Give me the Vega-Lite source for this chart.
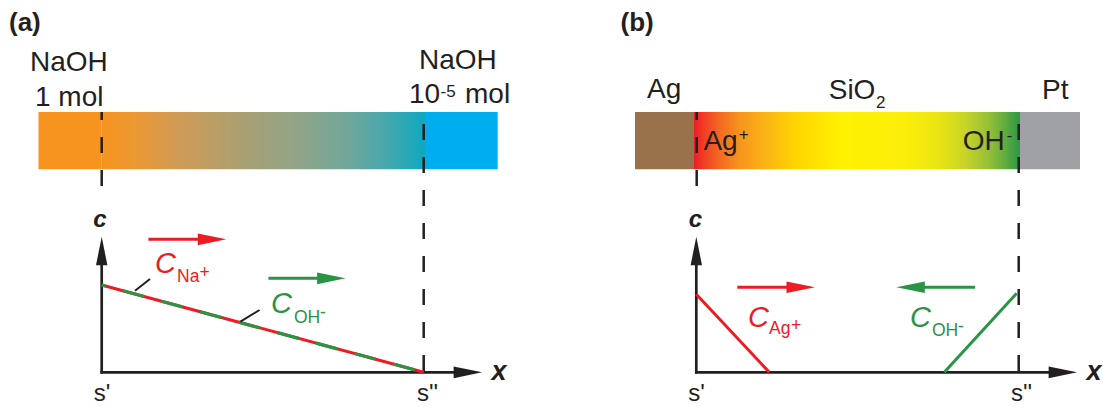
{
  "$schema": "https://vega.github.io/schema/vega-lite/v6.json",
  "background": "white",
  "padding": 0,
  "spacing": 0,
  "bounds": "flush",
  "config": {"view": {"stroke": null}, "text": {"font": "Liberation Sans", "baseline": "alphabetic"}},
  "resolve": {"scale": {"x": "independent", "y": "independent", "color": "independent", "shape": "independent"}},
  "datasets": {
    "bars": [
      {"panel": "a", "material": "NaOH 1 mol", "x": -0.19627, "x_end": 0, "c": 2.32532, "c_end": 2.98167},
      {"panel": "a", "material": "NaOH gradient", "x": 0, "x_end": 1.00404, "c": 2.32532, "c_end": 2.98167},
      {"panel": "a", "material": "NaOH 1e-5 mol", "x": 1.00404, "x_end": 1.22981, "c": 2.32532, "c_end": 2.98167},
      {"panel": "b", "material": "Ag", "x": -0.19037, "x_end": -0.00714, "c": 2.32532, "c_end": 2.98167},
      {"panel": "b", "material": "SiO2", "x": -0.00714, "x_end": 1.00528, "c": 2.32532, "c_end": 2.98167},
      {"panel": "b", "material": "Pt", "x": 1.00528, "x_end": 1.19161, "c": 2.32532, "c_end": 2.98167}
    ],
    "boundaries": [
      {"panel": "a", "boundary": "s'", "x": 0, "c": 2.13402, "x_end": 0, "c_end": 2.98167},
      {"panel": "a", "boundary": "s''", "x": 1, "c": 2.84422, "x_end": 1, "c_end": 0},
      {"panel": "b", "boundary": "s'", "x": 0.00124, "c": 2.13402, "x_end": 0.00124, "c_end": 2.98167},
      {"panel": "b", "boundary": "s''", "x": 1.00124, "c": 2.84422, "x_end": 1.00124, "c_end": 0}
    ],
    "arrows": [
      {"panel": "a", "quantity": "c axis", "direction": "up", "x": 0, "c": 0, "x_end": 0, "c_end": 1.38946},
      {"panel": "a", "quantity": "x axis", "direction": "right", "x": 0, "c": 0, "x_end": 1.13711, "c_end": 0},
      {"panel": "a", "quantity": "Na+", "direction": "right", "x": 0.14503, "c": 1.52348, "x_end": 0.3427, "c_end": 1.52348},
      {"panel": "a", "quantity": "OH-", "direction": "right", "x": 0.5177, "c": 1.07675, "x_end": 0.7132, "c_end": 1.07675},
      {"panel": "b", "quantity": "c axis", "direction": "up", "x": 0, "c": 0, "x_end": 0, "c_end": 1.38946},
      {"panel": "b", "quantity": "x axis", "direction": "right", "x": 0, "c": 0, "x_end": 1.13835, "c_end": 0},
      {"panel": "b", "quantity": "Ag+", "direction": "right", "x": 0.12733, "c": 0.974, "x_end": 0.32438, "c_end": 0.974},
      {"panel": "b", "quantity": "OH-", "direction": "left", "x": 0.86553, "c": 0.974, "x_end": 0.66537, "c_end": 0.974}
    ],
    "profiles": [
      {"panel": "a", "ion": "Na+", "x": 0, "c": 1},
      {"panel": "a", "ion": "Na+", "x": 1, "c": 0},
      {"panel": "a", "ion": "OH-", "x": 0, "c": 1},
      {"panel": "a", "ion": "OH-", "x": 1, "c": 0},
      {"panel": "b", "ion": "Ag+", "x": 0, "c": 0.89347},
      {"panel": "b", "ion": "Ag+", "x": 0.22671, "c": 0},
      {"panel": "b", "ion": "OH-", "x": 0.77019, "c": 0},
      {"panel": "b", "ion": "OH-", "x": 0.99503, "c": 0.90493}
    ],
    "leaders": [
      {"panel": "a", "ion": "Na+", "x": 0.10342, "c": 0.93471, "x_end": 0.15, "c_end": 1.06873},
      {"panel": "a", "ion": "OH-", "x": 0.43075, "c": 0.57961, "x_end": 0.49037, "c_end": 0.71363}
    ],
    "labels": [
      {"panel": "a", "role": "tag", "text": "(a)", "x": -0.28789, "c": 3.90951},
      {"panel": "a", "role": "label", "text": "NaOH", "x": -0.22267, "c": 3.45132},
      {"panel": "a", "role": "label", "text": "1 mol", "x": -0.20714, "c": 3.0504},
      {"panel": "a", "role": "label", "text": "NaOH", "x": 0.9854, "c": 3.47423},
      {"panel": "a", "role": "label", "text": "10", "x": 0.95435, "c": 3.07904},
      {"panel": "a", "role": "label_small", "text": "-5", "x": 1.05217, "c": 3.1581},
      {"panel": "a", "role": "label", "text": "mol", "x": 1.12826, "c": 3.07904},
      {"panel": "a", "role": "axis", "text": "c", "x": -0.00528, "c": 1.66438},
      {"panel": "a", "role": "axis", "text": "x", "x": 1.23385, "c": -0.0882},
      {"panel": "a", "role": "position", "text": "s'", "x": 0.00093, "c": -0.32875},
      {"panel": "a", "role": "position", "text": "s''", "x": 1.0118, "c": -0.32875},
      {"panel": "a", "role": "symbol", "ion": "Na+", "text": "C", "x": 0.16553, "c": 1.13173},
      {"panel": "a", "role": "ion_small", "ion": "Na+", "text": "Na", "x": 0.23385, "c": 1.03436},
      {"panel": "a", "role": "ion_small", "ion": "Na+", "text": "+", "x": 0.30373, "c": 1.08018},
      {"panel": "a", "role": "symbol", "ion": "OH-", "text": "C", "x": 0.52578, "c": 0.67354},
      {"panel": "a", "role": "ion_small", "ion": "OH-", "text": "OH", "x": 0.5972, "c": 0.56472},
      {"panel": "a", "role": "ion_small", "ion": "OH-", "text": "-", "x": 0.67795, "c": 0.62199},
      {"panel": "b", "role": "tag", "text": "(b)", "x": -0.2354, "c": 3.90951},
      {"panel": "b", "role": "label", "text": "Ag", "x": -0.15311, "c": 3.13631},
      {"panel": "b", "role": "label", "text": "SiO", "x": 0.41118, "c": 3.13059},
      {"panel": "b", "role": "label_small", "text": "2", "x": 0.55807, "c": 3.02749},
      {"panel": "b", "role": "label", "text": "Pt", "x": 1.0736, "c": 3.12486},
      {"panel": "b", "role": "label", "text": "Ag", "x": 0.02205, "c": 2.54639},
      {"panel": "b", "role": "label_small", "text": "+", "x": 0.13168, "c": 2.66094},
      {"panel": "b", "role": "label", "text": "OH", "x": 0.82733, "c": 2.54639},
      {"panel": "b", "role": "label_small", "text": "-", "x": 0.96429, "c": 2.64948},
      {"panel": "b", "role": "axis", "text": "c", "x": -0.00248, "c": 1.66438},
      {"panel": "b", "role": "axis", "text": "x", "x": 1.23509, "c": -0.0882},
      {"panel": "b", "role": "position", "text": "s'", "x": 0.00062, "c": -0.32875},
      {"panel": "b", "role": "position", "text": "s''", "x": 1.00994, "c": -0.32875},
      {"panel": "b", "role": "symbol", "ion": "Ag+", "text": "C", "x": 0.16056, "c": 0.5189},
      {"panel": "b", "role": "ion_small", "ion": "Ag+", "text": "Ag", "x": 0.22578, "c": 0.43872},
      {"panel": "b", "role": "ion_small", "ion": "Ag+", "text": "+", "x": 0.2941, "c": 0.47308},
      {"panel": "b", "role": "symbol", "ion": "OH-", "text": "C", "x": 0.66366, "c": 0.5189},
      {"panel": "b", "role": "ion_small", "ion": "OH-", "text": "OH", "x": 0.73199, "c": 0.41581},
      {"panel": "b", "role": "ion_small", "ion": "OH-", "text": "-", "x": 0.81273, "c": 0.462}
    ]
  },
  "hconcat": [
    {
      "width": 551,
      "height": 407,
      "encoding": {
        "x": {"field": "x", "type": "quantitative", "scale": {"domain": [-0.31584, 1.39534], "nice": false, "zero": false}, "axis": null},
        "y": {"field": "c", "type": "quantitative", "scale": {"domain": [-0.39748, 4.2646], "nice": false, "zero": false}, "axis": null}
      },
      "resolve": {"scale": {"color": "independent"}},
      "layer": [
        {
          "data": {"name": "bars"},
          "transform": [{"filter": "datum.panel == 'a' && datum.material != 'NaOH gradient'"}],
          "mark": {"type": "rect"},
          "encoding": {
            "x2": {"field": "x_end"}, "y2": {"field": "c_end"},
            "color": {"field": "material", "type": "nominal", "scale": {"domain": ["NaOH 1 mol", "NaOH 1e-5 mol"], "range": ["#f6941f", "#00aeef"]}, "legend": null}
          }
        },
        {
          "data": {"name": "bars"},
          "transform": [{"filter": "datum.panel == 'a' && datum.material == 'NaOH gradient'"}],
          "mark": {"type": "rect", "fill": {"gradient": "linear", "x1": 0, "y1": 0, "x2": 1, "y2": 0, "stops": [
            {"offset": 0, "color": "#f6941f"}, {"offset": 0.1, "color": "#ec9833"}, {"offset": 0.23, "color": "#d19b55"},
            {"offset": 0.44, "color": "#a8a073"}, {"offset": 0.6, "color": "#92a487"}, {"offset": 0.77, "color": "#6ea79b"},
            {"offset": 0.88, "color": "#45a8ad"}, {"offset": 1, "color": "#0ea8c1"}]}},
          "encoding": {"x2": {"field": "x_end"}, "y2": {"field": "c_end"}}
        },
        {
          "data": {"name": "boundaries"},
          "transform": [{"filter": "datum.panel == 'a'"}],
          "mark": {"type": "rule", "strokeDash": [16, 17], "strokeWidth": 2.5, "color": "#231f20"},
          "encoding": {"x2": {"field": "x_end"}, "y2": {"field": "c_end"}}
        },
        {
          "data": {"name": "arrows"},
          "transform": [{"filter": "datum.panel == 'a' && (datum.quantity == 'c axis' || datum.quantity == 'x axis')"}],
          "mark": {"type": "rule", "strokeWidth": 2.7, "strokeCap": "square", "color": "#231f20"},
          "encoding": {"x2": {"field": "x_end"}, "y2": {"field": "c_end"}}
        },
        {
          "data": {"name": "profiles"},
          "transform": [{"filter": "datum.panel == 'a' && datum.ion == 'Na+'"}],
          "mark": {"type": "line", "strokeWidth": 3, "color": "#ed1c24"},
          "encoding": {}
        },
        {
          "data": {"name": "profiles"},
          "transform": [{"filter": "datum.panel == 'a' && datum.ion == 'OH-'"}],
          "mark": {"type": "line", "strokeWidth": 3.2, "color": "#2a9445", "strokeDash": [22, 18], "strokeDashOffset": 18},
          "encoding": {}
        },
        {
          "data": {"name": "leaders"},
          "transform": [{"filter": "datum.panel == 'a'"}],
          "mark": {"type": "rule", "strokeWidth": 2, "color": "#231f20"},
          "encoding": {"x2": {"field": "x_end"}, "y2": {"field": "c_end"}}
        },
        {
          "data": {"name": "arrows"},
          "transform": [{"filter": "datum.panel == 'a' && datum.quantity != 'c axis' && datum.quantity != 'x axis'"}],
          "mark": {"type": "rule", "strokeWidth": 3},
          "encoding": {
            "x2": {"field": "x_end"}, "y2": {"field": "c_end"},
            "color": {"field": "quantity", "type": "nominal", "scale": {"domain": ["Na+", "OH-", "Ag+"], "range": ["#ed1c24", "#2a9445", "#ed1c24"]}, "legend": null}
          }
        },
        {
          "data": {"name": "arrows"},
          "transform": [{"filter": "datum.panel == 'a'"}],
          "mark": {"type": "point", "filled": true, "opacity": 1, "size": 812, "strokeWidth": 0},
          "encoding": {
            "x": {"field": "x_end", "type": "quantitative"},
            "y": {"field": "c_end", "type": "quantitative"},
            "shape": {"field": "direction", "type": "nominal", "scale": {"domain": ["up", "right", "left"], "range": ["M0,-1L-0.4,1L0.4,1Z", "M1,0L-1,-0.41L-1,0.41Z", "M-1,0L1,-0.41L1,0.41Z"]}, "legend": null},
            "color": {"field": "quantity", "type": "nominal", "scale": {"domain": ["c axis", "x axis", "Na+", "OH-", "Ag+"], "range": ["#231f20", "#231f20", "#ed1c24", "#2a9445", "#ed1c24"]}, "legend": null}
          }
        },
        {
          "data": {"name": "labels"},
          "transform": [{"filter": "datum.panel == 'a' && datum.role == 'tag'"}],
          "mark": {"type": "text", "align": "left", "fontSize": 26, "fontWeight": "bold", "color": "#231f20"},
          "encoding": {"text": {"field": "text"}}
        },
        {
          "data": {"name": "labels"},
          "transform": [{"filter": "datum.panel == 'a' && datum.role == 'label'"}],
          "mark": {"type": "text", "align": "left", "fontSize": 28, "color": "#231f20"},
          "encoding": {"text": {"field": "text"}}
        },
        {
          "data": {"name": "labels"},
          "transform": [{"filter": "datum.panel == 'a' && datum.role == 'label_small'"}],
          "mark": {"type": "text", "align": "left", "fontSize": 17, "color": "#231f20"},
          "encoding": {"text": {"field": "text"}}
        },
        {
          "data": {"name": "labels"},
          "transform": [{"filter": "datum.panel == 'a' && datum.role == 'axis' && datum.text == 'c'"}],
          "mark": {"type": "text", "align": "center", "fontSize": 24, "fontWeight": "bold", "fontStyle": "italic", "color": "#231f20"},
          "encoding": {"text": {"field": "text"}}
        },
        {
          "data": {"name": "labels"},
          "transform": [{"filter": "datum.panel == 'a' && datum.role == 'axis' && datum.text == 'x'"}],
          "mark": {"type": "text", "align": "center", "fontSize": 27, "fontWeight": "bold", "fontStyle": "italic", "color": "#231f20"},
          "encoding": {"text": {"field": "text"}}
        },
        {
          "data": {"name": "labels"},
          "transform": [{"filter": "datum.panel == 'a' && datum.role == 'position'"}],
          "mark": {"type": "text", "align": "center", "fontSize": 24, "color": "#231f20"},
          "encoding": {"text": {"field": "text"}}
        },
        {
          "data": {"name": "labels"},
          "transform": [{"filter": "datum.panel == 'a' && datum.role == 'symbol'"}],
          "mark": {"type": "text", "align": "left", "fontSize": 29, "fontStyle": "italic"},
          "encoding": {
            "text": {"field": "text"},
            "color": {"field": "ion", "type": "nominal", "scale": {"domain": ["Na+", "OH-", "Ag+"], "range": ["#ed1c24", "#2a9445", "#ed1c24"]}, "legend": null}
          }
        },
        {
          "data": {"name": "labels"},
          "transform": [{"filter": "datum.panel == 'a' && datum.role == 'ion_small'"}],
          "mark": {"type": "text", "align": "left", "fontSize": 17.5},
          "encoding": {
            "text": {"field": "text"},
            "color": {"field": "ion", "type": "nominal", "scale": {"domain": ["Na+", "OH-", "Ag+"], "range": ["#ed1c24", "#2a9445", "#ed1c24"]}, "legend": null}
          }
        }
      ]
    },
    {
      "width": 552,
      "height": 407,
      "encoding": {
        "x": {"field": "x", "type": "quantitative", "scale": {"domain": [-0.45124, 1.26304], "nice": false, "zero": false}, "axis": null},
        "y": {"field": "c", "type": "quantitative", "scale": {"domain": [-0.39748, 4.2646], "nice": false, "zero": false}, "axis": null}
      },
      "resolve": {"scale": {"color": "independent"}},
      "layer": [
        {
          "data": {"name": "bars"},
          "transform": [{"filter": "datum.panel == 'b' && datum.material != 'SiO2'"}],
          "mark": {"type": "rect"},
          "encoding": {
            "x2": {"field": "x_end"}, "y2": {"field": "c_end"},
            "color": {"field": "material", "type": "nominal", "scale": {"domain": ["Ag", "Pt"], "range": ["#98724a", "#a0a1a4"]}, "legend": null}
          }
        },
        {
          "data": {"name": "bars"},
          "transform": [{"filter": "datum.panel == 'b' && datum.material == 'SiO2'"}],
          "mark": {"type": "rect", "fill": {"gradient": "linear", "x1": 0, "y1": 0, "x2": 1, "y2": 0, "stops": [
            {"offset": 0, "color": "#ed1c24"}, {"offset": 0.034, "color": "#f04223"}, {"offset": 0.08, "color": "#f36b21"},
            {"offset": 0.14, "color": "#f7941d"}, {"offset": 0.22, "color": "#fbb415"}, {"offset": 0.31, "color": "#ffd400"},
            {"offset": 0.45, "color": "#fff100"}, {"offset": 0.65, "color": "#fcee0a"}, {"offset": 0.75, "color": "#e9e413"},
            {"offset": 0.83, "color": "#c8d526"}, {"offset": 0.91, "color": "#90be38"}, {"offset": 0.96, "color": "#5aa940"},
            {"offset": 1, "color": "#2a9947"}]}},
          "encoding": {"x2": {"field": "x_end"}, "y2": {"field": "c_end"}}
        },
        {
          "data": {"name": "boundaries"},
          "transform": [{"filter": "datum.panel == 'b'"}],
          "mark": {"type": "rule", "strokeDash": [16, 17], "strokeWidth": 2.5, "color": "#231f20"},
          "encoding": {"x2": {"field": "x_end"}, "y2": {"field": "c_end"}}
        },
        {
          "data": {"name": "arrows"},
          "transform": [{"filter": "datum.panel == 'b' && (datum.quantity == 'c axis' || datum.quantity == 'x axis')"}],
          "mark": {"type": "rule", "strokeWidth": 2.7, "strokeCap": "square", "color": "#231f20"},
          "encoding": {"x2": {"field": "x_end"}, "y2": {"field": "c_end"}}
        },
        {
          "data": {"name": "profiles"},
          "transform": [{"filter": "datum.panel == 'b'"}],
          "mark": {"type": "line", "strokeWidth": 3},
          "encoding": {
            "detail": {"field": "ion"},
            "color": {"field": "ion", "type": "nominal", "scale": {"domain": ["Na+", "OH-", "Ag+"], "range": ["#ed1c24", "#2a9445", "#ed1c24"]}, "legend": null}
          }
        },
        {
          "data": {"name": "arrows"},
          "transform": [{"filter": "datum.panel == 'b' && datum.quantity != 'c axis' && datum.quantity != 'x axis'"}],
          "mark": {"type": "rule", "strokeWidth": 3},
          "encoding": {
            "x2": {"field": "x_end"}, "y2": {"field": "c_end"},
            "color": {"field": "quantity", "type": "nominal", "scale": {"domain": ["Na+", "OH-", "Ag+"], "range": ["#ed1c24", "#2a9445", "#ed1c24"]}, "legend": null}
          }
        },
        {
          "data": {"name": "arrows"},
          "transform": [{"filter": "datum.panel == 'b'"}],
          "mark": {"type": "point", "filled": true, "opacity": 1, "size": 812, "strokeWidth": 0},
          "encoding": {
            "x": {"field": "x_end", "type": "quantitative"},
            "y": {"field": "c_end", "type": "quantitative"},
            "shape": {"field": "direction", "type": "nominal", "scale": {"domain": ["up", "right", "left"], "range": ["M0,-1L-0.4,1L0.4,1Z", "M1,0L-1,-0.41L-1,0.41Z", "M-1,0L1,-0.41L1,0.41Z"]}, "legend": null},
            "color": {"field": "quantity", "type": "nominal", "scale": {"domain": ["c axis", "x axis", "Na+", "OH-", "Ag+"], "range": ["#231f20", "#231f20", "#ed1c24", "#2a9445", "#ed1c24"]}, "legend": null}
          }
        },
        {
          "data": {"name": "labels"},
          "transform": [{"filter": "datum.panel == 'b' && datum.role == 'tag'"}],
          "mark": {"type": "text", "align": "left", "fontSize": 26, "fontWeight": "bold", "color": "#231f20"},
          "encoding": {"text": {"field": "text"}}
        },
        {
          "data": {"name": "labels"},
          "transform": [{"filter": "datum.panel == 'b' && datum.role == 'label'"}],
          "mark": {"type": "text", "align": "left", "fontSize": 28, "color": "#231f20"},
          "encoding": {"text": {"field": "text"}}
        },
        {
          "data": {"name": "labels"},
          "transform": [{"filter": "datum.panel == 'b' && datum.role == 'label_small'"}],
          "mark": {"type": "text", "align": "left", "fontSize": 17, "color": "#231f20"},
          "encoding": {"text": {"field": "text"}}
        },
        {
          "data": {"name": "labels"},
          "transform": [{"filter": "datum.panel == 'b' && datum.role == 'axis' && datum.text == 'c'"}],
          "mark": {"type": "text", "align": "center", "fontSize": 24, "fontWeight": "bold", "fontStyle": "italic", "color": "#231f20"},
          "encoding": {"text": {"field": "text"}}
        },
        {
          "data": {"name": "labels"},
          "transform": [{"filter": "datum.panel == 'b' && datum.role == 'axis' && datum.text == 'x'"}],
          "mark": {"type": "text", "align": "center", "fontSize": 27, "fontWeight": "bold", "fontStyle": "italic", "color": "#231f20"},
          "encoding": {"text": {"field": "text"}}
        },
        {
          "data": {"name": "labels"},
          "transform": [{"filter": "datum.panel == 'b' && datum.role == 'position'"}],
          "mark": {"type": "text", "align": "center", "fontSize": 24, "color": "#231f20"},
          "encoding": {"text": {"field": "text"}}
        },
        {
          "data": {"name": "labels"},
          "transform": [{"filter": "datum.panel == 'b' && datum.role == 'symbol'"}],
          "mark": {"type": "text", "align": "left", "fontSize": 29, "fontStyle": "italic"},
          "encoding": {
            "text": {"field": "text"},
            "color": {"field": "ion", "type": "nominal", "scale": {"domain": ["Na+", "OH-", "Ag+"], "range": ["#ed1c24", "#2a9445", "#ed1c24"]}, "legend": null}
          }
        },
        {
          "data": {"name": "labels"},
          "transform": [{"filter": "datum.panel == 'b' && datum.role == 'ion_small'"}],
          "mark": {"type": "text", "align": "left", "fontSize": 17.5},
          "encoding": {
            "text": {"field": "text"},
            "color": {"field": "ion", "type": "nominal", "scale": {"domain": ["Na+", "OH-", "Ag+"], "range": ["#ed1c24", "#2a9445", "#ed1c24"]}, "legend": null}
          }
        }
      ]
    }
  ]
}
